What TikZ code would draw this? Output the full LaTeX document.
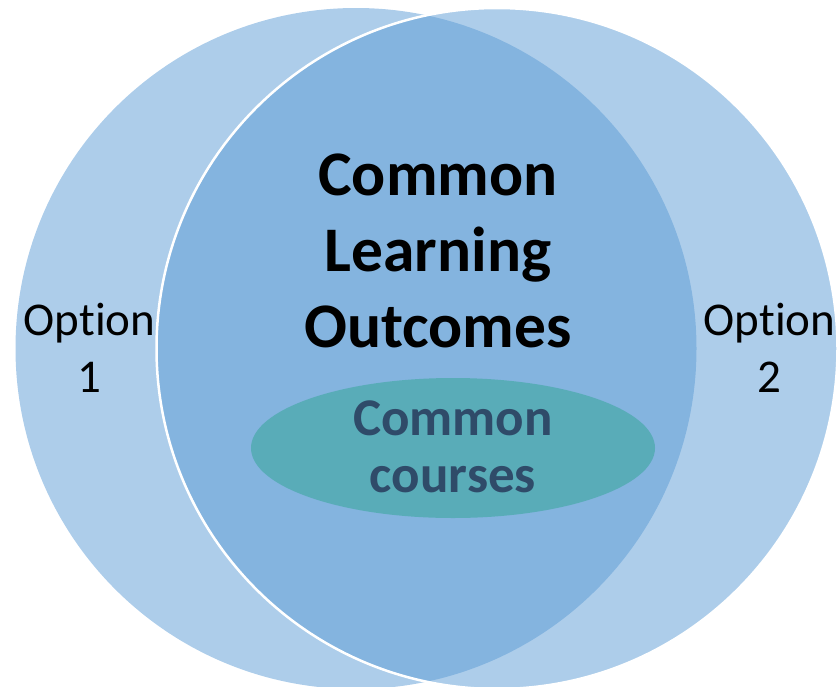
\documentclass[tikz,border=0pt]{standalone}
\usepackage{fontspec}
\setmainfont{Carlito}[Ligatures=NoCommon]
\usetikzlibrary{shapes.geometric}
\definecolor{accblue}{RGB}{91,155,213}
\definecolor{tealfill}{RGB}{89,172,184}
\definecolor{navytext}{RGB}{47,75,105}
\begin{document}
\begin{tikzpicture}[x=1pt,y=-1pt,
  bigcircle/.style={fill=accblue,fill opacity=0.5},
  optlabel/.style={align=center,anchor=base,inner sep=0pt,font=\fontsize{47}{57}\selectfont},
  mainlabel/.style={align=center,anchor=base,inner sep=0pt,font=\fontsize{63.5}{76}\selectfont\bfseries},
  courselabel/.style={align=center,anchor=base,inner sep=0pt,text=navytext,font=\fontsize{53}{57}\selectfont\bfseries}]
\useasboundingbox (0,0) rectangle (838,686);
\clip (0,0) rectangle (838,686);
\fill[bigcircle] (356,348.5) circle[radius=340.5];
\path[bigcircle,draw=white,draw opacity=1,line width=2.5pt] (497,348.5) circle[radius=340.5];
\node[ellipse,fill=tealfill,minimum width=404,minimum height=140,inner sep=0pt] (courses) at (453,448) {};
\node[mainlabel] (clo) at (438,347) {Common\\Learning\\Outcomes};
\node[courselabel] (cc) at (453,492) {Common\\courses};
\node[optlabel] (opt1) at (89.5,392) {Option\\1};
\node[optlabel] (opt2) at (769.5,392) {Option\\2};
\end{tikzpicture}
\end{document}
